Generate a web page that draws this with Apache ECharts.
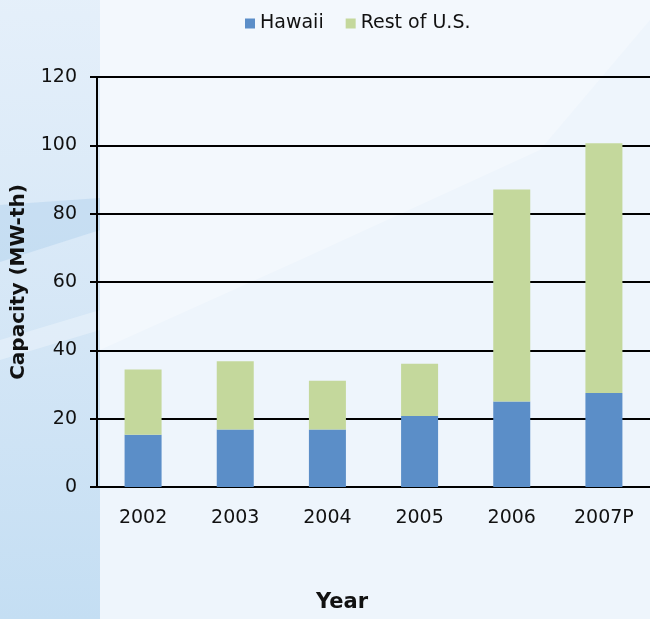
<!DOCTYPE html>
<html>
<head>
<meta charset="utf-8">
<script src="https://cdn.jsdelivr.net/npm/echarts@6/dist/echarts.min.js"></script>
<style>
  html, body { margin: 0; padding: 0; }
  #chart { width: 650px; height: 619px; }
</style>
</head>
<body>
<div id="chart"></div>
<script>
const years = ["2002", "2003", "2004", "2005", "2006", "2007P"];
const hawaii = [15.3, 16.8, 16.8, 20.8, 25.0, 27.5];
const restOfUS = [19.1, 20.0, 14.3, 15.3, 62.1, 73.1];
const yTicks = { min: 0, max: 120, step: 20 };

const chart = echarts.init(document.getElementById("chart"));

const font = "DejaVu Sans, Verdana, sans-serif";

const option = {
  backgroundColor: "#eef5fc",
  animation: false,
  graphic: [
    // lighter upper area (background swoosh)
    {
      type: "polygon",
      silent: true,
      z: -10,
      shape: { points: [[0, 0], [650, 0], [650, 20], [540, 150], [300, 260], [100, 350], [0, 380]] },
      style: { fill: "rgba(255,255,255,0.3)" }
    },
    // left strip
    {
      type: "rect",
      silent: true,
      z: -9,
      shape: { x: 0, y: 0, width: 100, height: 619 },
      style: {
        fill: new echarts.graphic.LinearGradient(0, 0, 0, 1, [
          { offset: 0, color: "rgba(228,239,250,0.95)" },
          { offset: 0.5, color: "rgba(212,230,246,0.95)" },
          { offset: 1, color: "rgba(196,222,243,1)" }
        ])
      }
    },
    {
      type: "polygon",
      silent: true,
      z: -8,
      shape: { points: [[0, 205], [100, 198], [100, 230], [0, 262]] },
      style: { fill: "rgba(170,205,235,0.4)" }
    },
    {
      type: "polygon",
      silent: true,
      z: -8,
      shape: { points: [[0, 340], [100, 310], [100, 330], [0, 360]] },
      style: { fill: "rgba(255,255,255,0.3)" }
    },
    {
      type: "text",
      left: 316,
      top: 592,
      style: { text: "Year", font: "bold 21px " + font, fill: "#111" }
    }
  ],
  legend: {
    top: 9,
    left: 240,
    itemWidth: 10,
    itemHeight: 10,
    itemGap: 22,
    icon: "rect",
    textStyle: { fontFamily: font, fontSize: 19, color: "#111" },
    data: ["Hawaii", "Rest of U.S."]
  },
  grid: { left: 97, right: 0, top: 77, bottom: 132, outerBoundsMode: "none", containLabel: false },
  xAxis: {
    type: "category",
    data: years,
    axisLine: { lineStyle: { color: "#000", width: 2 } },
    axisTick: { length: 8, lineStyle: { color: "#000", width: 2 } },
    axisLabel: { margin: 22, fontFamily: font, fontSize: 19, color: "#111" }
  },
  yAxis: {
    type: "value",
    min: yTicks.min,
    max: yTicks.max,
    interval: yTicks.step,
    name: "Capacity (MW-th)",
    nameLocation: "middle",
    nameGap: 68,
    nameTextStyle: { fontFamily: font, fontSize: 20, fontWeight: "bold", color: "#111" },
    axisLine: { show: true, lineStyle: { color: "#000", width: 2 } },
    axisTick: { show: true, length: 7, lineStyle: { color: "#000", width: 2 } },
    axisLabel: { margin: 20, fontFamily: font, fontSize: 19, color: "#111" },
    splitLine: { lineStyle: { color: "#000", width: 2 } }
  },
  series: [
    {
      name: "Hawaii",
      type: "bar",
      stack: "cap",
      barWidth: 37,
      data: hawaii,
      itemStyle: { color: "#5b8ec8" }
    },
    {
      name: "Rest of U.S.",
      type: "bar",
      stack: "cap",
      barWidth: 37,
      data: restOfUS,
      itemStyle: { color: "#c4d89c" }
    }
  ]
};

chart.setOption(option);
</script>
</body>
</html>
